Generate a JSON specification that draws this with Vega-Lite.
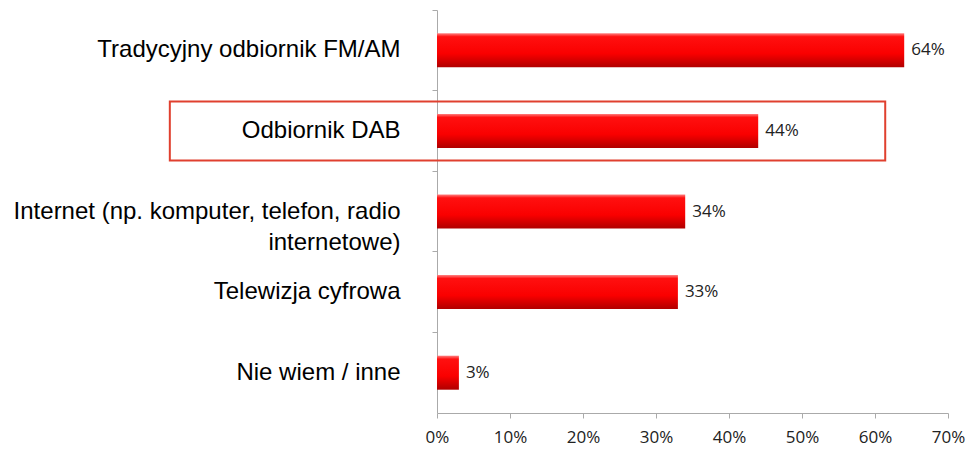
{
  "$schema": "https://vega.github.io/schema/vega-lite/v6.json",
  "autosize": "none",
  "width": 511,
  "height": 403,
  "padding": {"left": 437, "top": 10, "right": 21, "bottom": 39},
  "background": "white",
  "config": {"view": {"stroke": null}},
  "data": {"values": [
    {"category": "Tradycyjny odbiornik FM/AM", "value": 0.64},
    {"category": "Odbiornik DAB", "value": 0.44},
    {"category": "Internet (np. komputer, telefon, radio internetowe)", "value": 0.34},
    {"category": "Telewizja cyfrowa", "value": 0.33},
    {"category": "Nie wiem / inne", "value": 0.03}
  ]},
  "encoding": {
    "y": {
      "field": "category", "type": "nominal", "sort": null,
      "scale": {"paddingInner": 0, "paddingOuter": 0},
      "axis": {
        "title": null, "bandPosition": 0, "tickSize": 5, "tickColor": "#aaaaaa",
        "domainColor": "#aaaaaa", "labelFont": "Liberation Sans", "labelFontSize": 24,
        "labelColor": "#000000", "labelPadding": 32, "labelLimit": 500, "labelLineHeight": 31,
        "labelExpr": "datum.value == 'Internet (np. komputer, telefon, radio internetowe)' ? ['Internet (np. komputer, telefon, radio', 'internetowe)'] : datum.value"
      }
    }
  },
  "layer": [
    {
      "mark": {
        "type": "bar", "size": 34,
        "color": {"gradient": "linear", "x1": 0, "y1": 0, "x2": 0, "y2": 1,
          "stops": [
            {"offset": 0, "color": "#ff8080"},
            {"offset": 0.1, "color": "#ff1010"},
            {"offset": 0.6, "color": "#fa0000"},
            {"offset": 1, "color": "#b00000"}
          ]}
      },
      "encoding": {
        "x": {
          "field": "value", "type": "quantitative",
          "scale": {"domain": [0, 0.7], "nice": false, "zero": false},
          "axis": {
            "title": null, "format": ".0%", "values": [0, 0.1, 0.2, 0.3, 0.4, 0.5, 0.6, 0.7],
            "grid": false, "tickSize": 5, "tickColor": "#aaaaaa", "domainColor": "#aaaaaa",
            "labelFont": "Open Sans", "labelFontSize": 17, "labelColor": "#222222",
            "labelPadding": 11, "labelFlush": false
          }
        }
      }
    },
    {
      "mark": {"type": "text", "align": "left", "baseline": "middle", "dx": 7, "font": "Open Sans", "fontSize": 17, "fill": "#222222"},
      "encoding": {
        "x": {"field": "value", "type": "quantitative"},
        "text": {"field": "value", "type": "quantitative", "format": ".0%"}
      }
    },
    {
      "transform": [{"filter": "datum.category == 'Odbiornik DAB'"}],
      "mark": {"type": "bar", "size": 59, "filled": false, "stroke": "#e0402f", "strokeWidth": 2, "fill": null, "clip": false},
      "encoding": {
        "x": {"datum": -0.366, "type": "quantitative"},
        "x2": {"datum": 0.614}
      }
    }
  ]
}
